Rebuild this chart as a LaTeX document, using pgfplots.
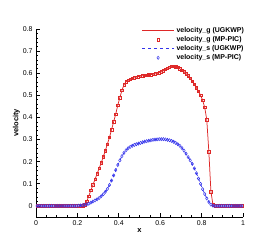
\documentclass[border=0pt]{standalone}
\usepackage{pgfplots}
\usepackage{pgfplotstable}
\pgfplotsset{compat=1.18}
\usepackage{fontspec}
\setmainfont{Liberation Sans}
\definecolor{rd}{RGB}{222,40,40}
\definecolor{bl}{RGB}{50,50,235}
\pgfplotstableread{
x g s
0.005 0 0
0.015 0 0
0.025 0 0
0.035 0 0
0.045 0 0
0.055 0 0
0.065 0 0
0.075 0 0
0.085 0 0
0.095 0 0
0.105 0 0
0.115 0 0
0.125 0 0
0.135 0 0
0.145 0 0
0.155 0 0
0.165 0 0
0.175 0 0
0.185 0 0
0.195 0 0
0.205 0 0.001
0.215 0 0.002
0.225 0.001 0.003
0.235 0.005 0.005
0.245 0.020 0.007
0.255 0.045 0.010
0.265 0.070 0.015
0.275 0.095 0.020
0.285 0.120 0.025
0.295 0.145 0.030
0.305 0.170 0.036
0.315 0.195 0.044
0.325 0.222 0.053
0.335 0.250 0.064
0.345 0.280 0.077
0.355 0.310 0.095
0.365 0.345 0.115
0.375 0.380 0.138
0.385 0.415 0.162
0.395 0.455 0.185
0.405 0.490 0.206
0.415 0.522 0.225
0.425 0.548 0.240
0.435 0.562 0.252
0.445 0.568 0.261
0.455 0.572 0.267
0.465 0.576 0.272
0.475 0.579 0.276
0.485 0.582 0.279
0.495 0.585 0.282
0.505 0.587 0.285
0.515 0.589 0.288
0.525 0.591 0.291
0.535 0.592 0.293
0.545 0.593 0.295
0.555 0.594 0.297
0.565 0.595 0.299
0.575 0.597 0.300
0.585 0.599 0.301
0.595 0.602 0.302
0.605 0.606 0.302
0.615 0.611 0.302
0.625 0.617 0.301
0.635 0.623 0.299
0.645 0.628 0.297
0.655 0.631 0.294
0.665 0.632 0.290
0.675 0.630 0.285
0.685 0.626 0.279
0.695 0.620 0.272
0.705 0.614 0.262
0.715 0.607 0.250
0.725 0.598 0.236
0.735 0.588 0.221
0.745 0.576 0.206
0.755 0.563 0.190
0.765 0.549 0.170
0.775 0.534 0.148
0.785 0.518 0.124
0.795 0.500 0.100
0.805 0.478 0.076
0.815 0.445 0.054
0.825 0.390 0.034
0.835 0.245 0.018
0.845 0.065 0.006
0.855 0.005 0.001
0.865 0 0
0.875 0 0
0.885 0 0
0.895 0 0
0.905 0 0
0.915 0 0
0.925 0 0
0.935 0 0
0.945 0 0
0.955 0 0
0.965 0 0
0.975 0 0
0.985 0 0
0.995 0 0
}\datatab
\begin{document}
\begin{tikzpicture}
\begin{axis}[
  at={(0,0)}, anchor=south west,
  scale only axis, width=207bp, height=188bp,
  xmin=0, xmax=1, ymin=-0.05, ymax=0.8,
  axis lines=left, axis line style={-, line width=0.9pt},
  tick align=inside,
  xtick={0,0.2,0.4,0.6,0.8,1}, minor x tick num=3,
  ytick={0,0.1,0.2,0.3,0.4,0.5,0.6,0.7,0.8}, minor y tick num=4,
  major tick length=4bp, minor tick length=2bp,
  every tick/.style={black, line width=0.7pt},
  xticklabels={0,0.2,0.4,0.6,0.8,1},
  yticklabels={0,0.1,0.2,0.3,0.4,0.5,0.6,0.7,0.8},
  tick label style={font=\fontsize{7}{8}\selectfont},
  xlabel={\textbf{x}}, ylabel={\textbf{velocity}},
  label style={font=\fontsize{7.5}{8}\selectfont},
  xlabel style={yshift=4bp},
  ylabel style={yshift=-4bp},
  legend cell align=left,
  legend style={draw=none, fill=none, at={(0.51,1.02)}, anchor=north west,
    font=\fontsize{7}{8}\selectfont\bfseries, row sep=-1.5pt,
    inner sep=0pt},
  legend image code/.code={\draw[mark repeat=2,mark phase=2,#1] plot coordinates {(0bp,0bp) (16bp,0bp) (32bp,0bp)};},
]
\addplot[rd, line width=0.75pt, no markers] table[x=x,y=g]{\datatab};
\addlegendentry{velocity\_g (UGKWP)}
\addplot[rd, only marks, mark=square, mark size=1.2bp, mark options={line width=0.5pt}] table[x=x,y=g]{\datatab};
\addlegendentry{velocity\_g (MP-PIC)}
\addplot[bl, line width=0.7pt, dashed, no markers] table[x=x,y=s]{\datatab};
\addlegendentry{velocity\_s (UGKWP)}
\addplot[bl, only marks, mark=diamond, mark size=1.6bp, mark options={line width=0.5pt}] table[x=x,y=s]{\datatab};
\addlegendentry{velocity\_s (MP-PIC)}
\end{axis}
\pgfresetboundingbox
\path[use as bounding box] (-36bp,-28bp) rectangle (240bp,217bp);
\end{tikzpicture}
\end{document}
